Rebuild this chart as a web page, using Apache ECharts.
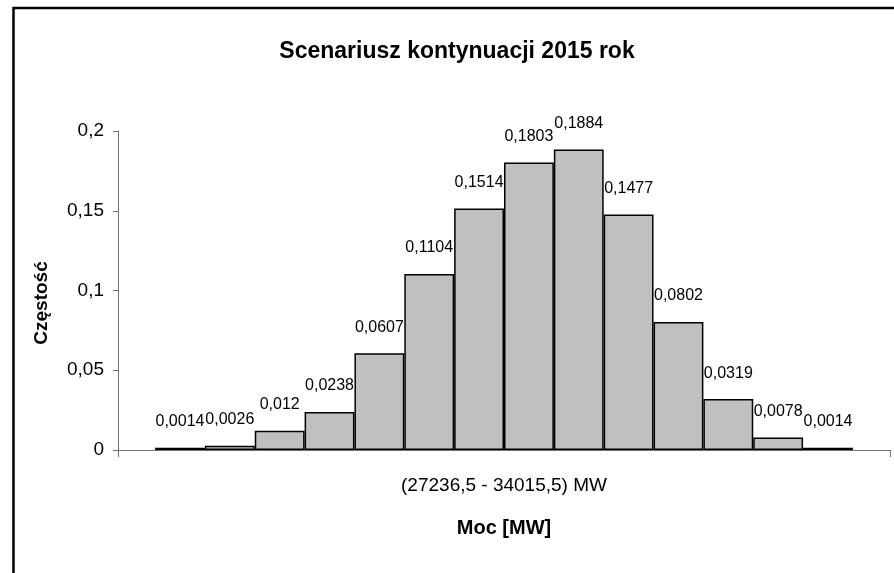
<!DOCTYPE html>
<html>
<head>
<meta charset="utf-8">
<script src="https://cdn.jsdelivr.net/npm/echarts@6/dist/echarts.min.js"></script>
<style>
  html, body { margin: 0; padding: 0; background: #fff; }
  #container { width: 894px; height: 573px; }
</style>
</head>
<body>
<div id="container"></div>
<script>
var titleText = 'Scenariusz kontynuacji 2015 rok';
var categories = ['(27236,5 - 34015,5) MW'];
var values = [0.0014, 0.0026, 0.012, 0.0238, 0.0607, 0.1104, 0.1514, 0.1803, 0.1884, 0.1477, 0.0802, 0.0319, 0.0078, 0.0014];
var yMin = 0;
var yMax = 0.2;
var yStep = 0.05;

var font = '"Liberation Sans", Arial, sans-serif';

function comma(v) {
    return String(v).replace('.', ',');
}

var dom = document.getElementById('container');
var myChart = echarts.init(dom);

// one series per bar, all in the single category (like the Excel original)
var series = values.map(function(v, i) {
    return {
        name: 'b' + i,
        type: 'bar',
        barGap: '0%',
        barCategoryGap: '9.6%',
        data: [v],
        itemStyle: {
            color: '#c0c0c0',
            borderColor: '#000',
            borderWidth: 1.5
        },
        label: {
            show: true,
            position: 'top',
            distance: 18,
            color: '#000',
            fontFamily: font,
            fontSize: 16,
            formatter: function(p) { return comma(p.value); }
        },
        animation: false
    };
});

var option = {
    backgroundColor: '#fff',
    title: {
        text: titleText,
        left: 452,
        top: 35,
        textAlign: 'center',
        textStyle: {
            fontFamily: font,
            fontWeight: 'bold',
            fontSize: 23,
            color: '#000'
        }
    },
    grid: {
        left: 118,
        right: 4,
        top: 131,
        bottom: 123
    },
    xAxis: {
        type: 'category',
        data: categories,
        name: 'Moc [MW]',
        nameLocation: 'middle',
        nameGap: 68,
        nameTextStyle: {
            fontFamily: font,
            fontWeight: 'bold',
            fontSize: 20,
            color: '#000'
        },
        axisLine: { lineStyle: { color: '#707070', width: 1 } },
        axisTick: { show: true, length: 7, lineStyle: { color: '#707070' } },
        axisLabel: {
            margin: 26,
            fontFamily: font,
            fontSize: 19,
            color: '#000'
        }
    },
    yAxis: {
        type: 'value',
        min: yMin,
        max: yMax,
        interval: yStep,
        name: 'Częstość',
        nameLocation: 'middle',
        nameGap: 67,
        nameTextStyle: {
            fontFamily: font,
            fontWeight: 'bold',
            fontSize: 19,
            color: '#000',
            padding: [0, 0, 0, -25]
        },
        axisLine: { show: true, lineStyle: { color: '#707070', width: 1 } },
        axisTick: { show: true, length: 5, lineStyle: { color: '#707070' } },
        splitLine: { show: false },
        axisLabel: {
            margin: 14,
            fontFamily: font,
            fontSize: 19,
            color: '#000',
            formatter: function(v) { return comma(v); }
        }
    },
    graphic: [{
        type: 'rect',
        shape: { x: 13.5, y: 8, width: 900, height: 600 },
        style: { fill: null, stroke: '#000', lineWidth: 2.5 },
        silent: true
    }],
    series: series
};

myChart.setOption(option, true);
</script>
</body>
</html>
